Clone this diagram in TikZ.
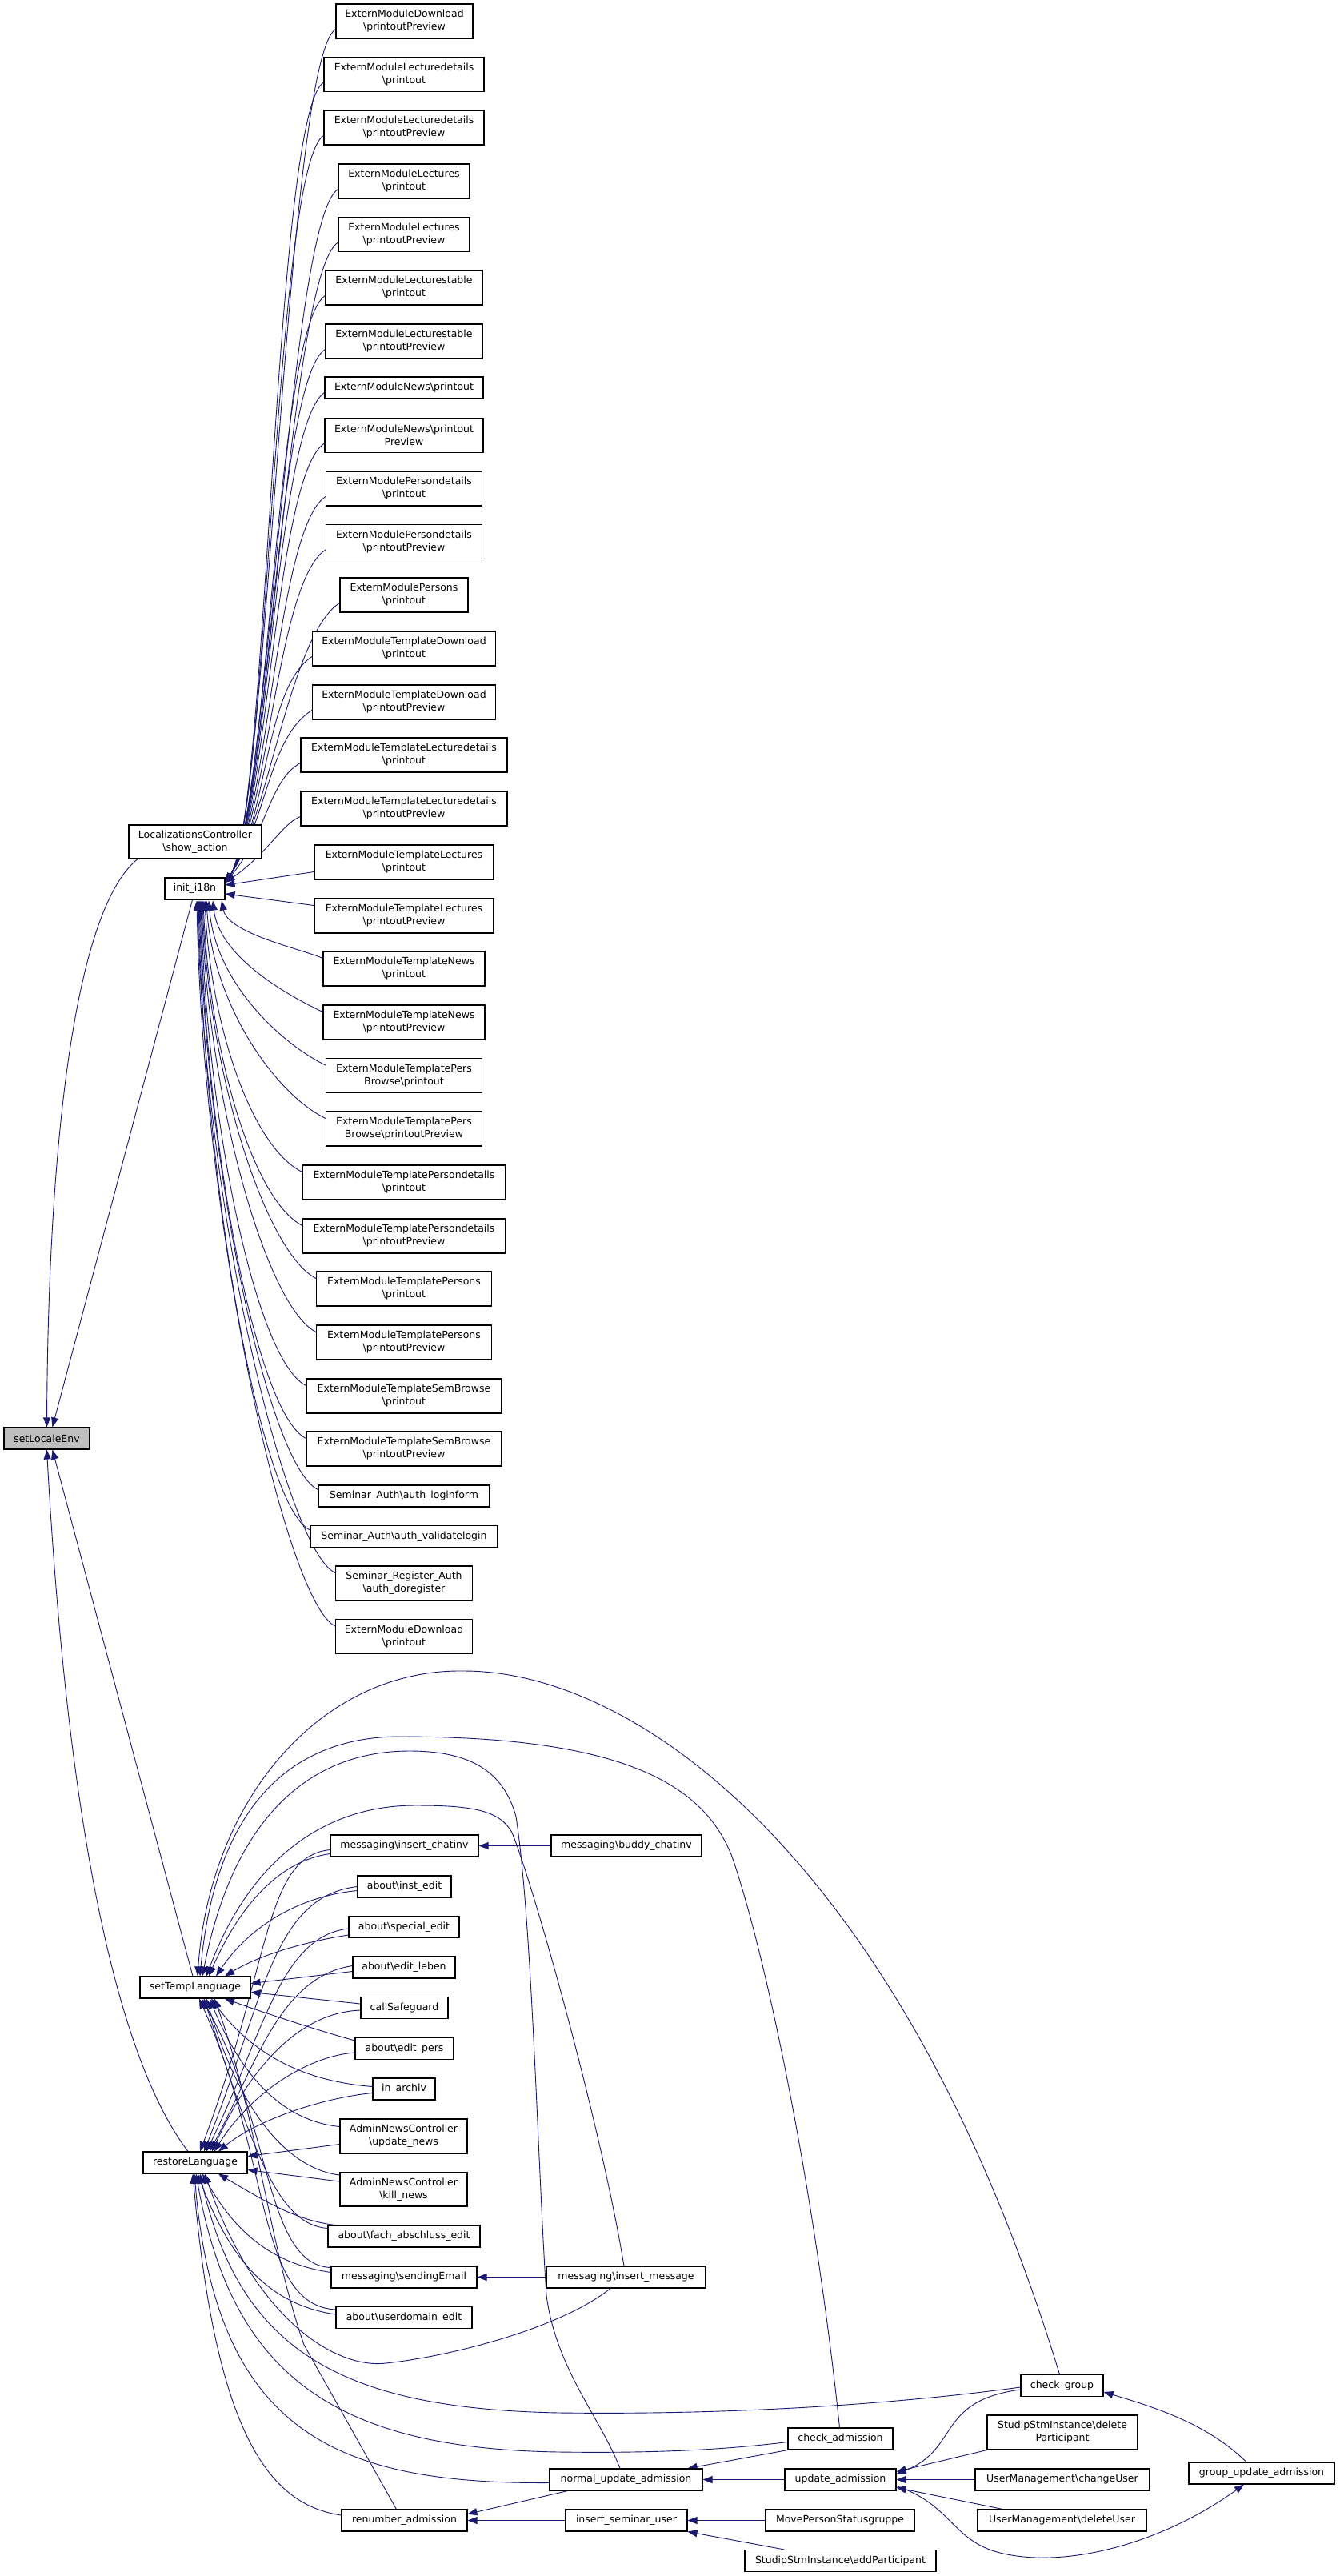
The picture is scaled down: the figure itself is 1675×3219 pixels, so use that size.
\documentclass[tikz,border=0pt]{standalone}
\usepackage{fontspec}
\setmainfont{DejaVu Sans}
\usetikzlibrary{arrows.meta,backgrounds}
\definecolor{edgeblue}{HTML}{191970}
\definecolor{selgray}{HTML}{BFBFBF}
\newcommand{\BSL}{\textbackslash}
\begin{document}
\begin{tikzpicture}[x=1pt,y=-1pt,
  box/.style={draw=black, line width=1.1pt, fill=white, inner sep=0pt, align=center,
    font=\fontsize{12.5}{16}\selectfont, minimum height=27pt},
  box2/.style={box, minimum height=43pt},
  ed/.style={draw=edgeblue, line width=0.9pt, {Triangle[length=12pt,width=9pt]}-},
]
\useasboundingbox (0,0) rectangle (1675,3219);
% ---------------- nodes
\node[box2, minimum width=171pt] (n1) at (505.5,26.5) {ExternModuleDownload\\\BSL printoutPreview};
\node[box2, minimum width=200pt] (n2) at (505,93) {ExternModuleLecturedetails\\\BSL printout};
\node[box2, minimum width=200pt] (n3) at (505,159.5) {ExternModuleLecturedetails\\\BSL printoutPreview};
\node[box2, minimum width=164pt] (n4) at (505,226.5) {ExternModuleLectures\\\BSL printout};
\node[box2, minimum width=164pt] (n5) at (505,293) {ExternModuleLectures\\\BSL printoutPreview};
\node[box2, minimum width=196pt] (n6) at (505,359.5) {ExternModuleLecturestable\\\BSL printout};
\node[box2, minimum width=196pt] (n7) at (505,426.5) {ExternModuleLecturestable\\\BSL printoutPreview};
\node[box, minimum width=198pt] (n8) at (505,484.5) {ExternModuleNews\BSL printout};
\node[box2, minimum width=198pt] (n9) at (505,544) {ExternModuleNews\BSL printout\\Preview};
\node[box2, minimum width=195pt] (n10) at (505,610.5) {ExternModulePersondetails\\\BSL printout};
\node[box2, minimum width=195pt] (n11) at (505,677) {ExternModulePersondetails\\\BSL printoutPreview};
\node[box2, minimum width=160pt] (n12) at (505,743.5) {ExternModulePersons\\\BSL printout};
\node[box2, minimum width=229pt] (n13) at (505,810.5) {ExternModuleTemplateDownload\\\BSL printout};
\node[box2, minimum width=229pt] (n14) at (505,877.5) {ExternModuleTemplateDownload\\\BSL printoutPreview};
\node[box2, minimum width=258pt] (n15) at (505,943.5) {ExternModuleTemplateLecturedetails\\\BSL printout};
\node[box2, minimum width=258pt] (n16) at (505,1010.5) {ExternModuleTemplateLecturedetails\\\BSL printoutPreview};
\node[box2, minimum width=224pt] (n17) at (505,1077.5) {ExternModuleTemplateLectures\\\BSL printout};
\node[box2, minimum width=224pt] (n18) at (505,1144.5) {ExternModuleTemplateLectures\\\BSL printoutPreview};
\node[box2, minimum width=202pt] (n19) at (505,1210.5) {ExternModuleTemplateNews\\\BSL printout};
\node[box2, minimum width=202pt] (n20) at (505,1277.5) {ExternModuleTemplateNews\\\BSL printoutPreview};
\node[box2, minimum width=195pt] (n21) at (505,1344) {ExternModuleTemplatePers\\Browse\BSL printout};
\node[box2, minimum width=195pt] (n22) at (505,1410.5) {ExternModuleTemplatePers\\Browse\BSL printoutPreview};
\node[box2, minimum width=253pt] (n23) at (505,1477.5) {ExternModuleTemplatePersondetails\\\BSL printout};
\node[box2, minimum width=253pt] (n24) at (505,1544.5) {ExternModuleTemplatePersondetails\\\BSL printoutPreview};
\node[box2, minimum width=219pt] (n25) at (505,1610.5) {ExternModuleTemplatePersons\\\BSL printout};
\node[box2, minimum width=219pt] (n26) at (505,1677.5) {ExternModuleTemplatePersons\\\BSL printoutPreview};
\node[box2, minimum width=244pt] (n27) at (505,1744.5) {ExternModuleTemplateSemBrowse\\\BSL printout};
\node[box2, minimum width=244pt] (n28) at (505,1810.5) {ExternModuleTemplateSemBrowse\\\BSL printoutPreview};
\node[box, minimum width=214pt] (n29) at (505,1869.5) {Seminar\_Auth\BSL auth\_loginform};
\node[box, minimum width=234pt] (n30) at (505,1920) {Seminar\_Auth\BSL auth\_validatelogin};
\node[box2, minimum width=171pt] (n31) at (505,1978.5) {Seminar\_Register\_Auth\\\BSL auth\_doregister};
\node[box2, minimum width=171pt] (n32) at (505,2045) {ExternModuleDownload\\\BSL printout};

\node[box2, minimum width=166pt, minimum height=42pt] (lc) at (244,1052) {LocalizationsController\\\BSL show\_action};
\node[box, minimum width=75pt] (i18n) at (243.5,1110.5) {init\_i18n};
\node[box, minimum width=107pt, fill=selgray] (sle) at (58.5,1797.5) {setLocaleEnv};

\node[box, minimum width=138pt] (stl) at (244,2483.5) {setTempLanguage};
\node[box, minimum width=130pt] (rl) at (244,2702.5) {restoreLanguage};
\node[box, minimum width=185pt] (ic) at (505.5,2306.5) {messaging\BSL insert\_chatinv};
\node[box, minimum width=188pt] (bc) at (783,2306.5) {messaging\BSL buddy\_chatinv};
\node[box, minimum width=117pt] (ie) at (505.5,2357.5) {about\BSL inst\_edit};
\node[box, minimum width=138pt] (se) at (505,2408) {about\BSL special\_edit};
\node[box, minimum width=128pt] (el) at (505,2458.5) {about\BSL edit\_leben};
\node[box, minimum width=109pt] (cs) at (505.5,2509) {callSafeguard};
\node[box, minimum width=123pt] (ep) at (505.5,2560) {about\BSL edit\_pers};
\node[box, minimum width=78pt] (ia) at (505,2610.5) {in\_archiv};
\node[box2, minimum width=159pt] (un) at (504.5,2669.5) {AdminNewsController\\\BSL update\_news};
\node[box2, minimum width=159pt, minimum height=42pt] (kn) at (504.5,2736) {AdminNewsController\\\BSL kill\_news};
\node[box, minimum width=190pt] (fa) at (505,2794.5) {about\BSL fach\_abschluss\_edit};
\node[box, minimum width=182pt] (sm) at (505,2845.5) {messaging\BSL sendingEmail};
\node[box, minimum width=199pt] (im) at (782.5,2845.5) {messaging\BSL insert\_message};
\node[box, minimum width=170pt] (ud) at (505,2896) {about\BSL userdomain\_edit};
\node[box, minimum width=103pt] (cg) at (1327.5,2981) {check\_group};
\node[box, minimum width=131pt] (ca) at (1050.5,3047.5) {check\_admission};
\node[box, minimum width=191pt] (nua) at (782.5,3098.5) {normal\_update\_admission};
\node[box, minimum width=139pt] (ua) at (1050.5,3098.5) {update\_admission};
\node[box2, minimum width=188pt] (dp) at (1328,3039.5) {StudipStmInstance\BSL delete\\Participant};
\node[box, minimum width=218pt] (cu) at (1328,3098.5) {UserManagement\BSL changeUser};
\node[box, minimum width=211pt] (du) at (1327.5,3149.5) {UserManagement\BSL deleteUser};
\node[box, minimum width=182pt] (gua) at (1577,3090.5) {group\_update\_admission};
\node[box, minimum width=157pt] (ra) at (505.5,3149.5) {renumber\_admission};
\node[box, minimum width=152pt] (isu) at (783,3149.5) {insert\_seminar\_user};
\node[box, minimum width=186pt] (mps) at (1050,3149.5) {MovePersonStatusgruppe};
\node[box, minimum width=239pt] (ap) at (1050.5,3200) {StudipStmInstance\BSL addParticipant};

\begin{scope}[on background layer]
\fill[white] (0,0) rectangle (1675,3219);
% ---------- setLocaleEnv callers
\draw[ed] (sle.north) .. controls (60,1450) and (90,1140) .. ([xshift=-72pt]lc.south);
\draw[ed] ([xshift=7pt]sle.north) -- ([xshift=-3pt]i18n.south);
\draw[ed] ([xshift=7pt]sle.south) -- ([xshift=-3pt]stl.north);
\draw[ed] (sle.south) .. controls (80,2200) and (130,2550) .. ([xshift=-9pt]rl.north);
% ---------- init_i18n callers (upper)
\draw[ed] ([yshift=7.5pt]i18n.east) .. controls (335,1023) and (357.5,76.5) .. ([yshift=-10pt]n1.west);
\draw[ed] ([yshift=7.5pt]i18n.east) .. controls (335,1023) and (342.5,143) .. ([yshift=-10pt]n2.west);
\draw[ed] ([yshift=7.5pt]i18n.east) .. controls (335,1023) and (342.5,209.5) .. ([yshift=-10pt]n3.west);
\draw[ed] ([yshift=7.5pt]i18n.east) .. controls (335,1023) and (360.5,276.5) .. ([yshift=-10pt]n4.west);
\draw[ed] ([yshift=7.5pt]i18n.east) .. controls (335,1023) and (360.5,343) .. ([yshift=-10pt]n5.west);
\draw[ed] ([yshift=7.5pt]i18n.east) .. controls (335,1023) and (344.5,409.5) .. ([yshift=-10pt]n6.west);
\draw[ed] ([yshift=7.5pt]i18n.east) .. controls (335,1023) and (344.5,476.5) .. ([yshift=-10pt]n7.west);
\draw[ed] ([yshift=7.5pt]i18n.east) .. controls (335,1023) and (343.5,534.5) .. ([yshift=-6pt]n8.west);
\draw[ed] ([yshift=7.5pt]i18n.east) .. controls (335,1023) and (343.5,594) .. ([yshift=-10pt]n9.west);
\draw[ed] ([yshift=7.5pt]i18n.east) .. controls (335,1023) and (345.5,660.5) .. ([yshift=-10pt]n10.west);
\draw[ed] ([yshift=7.5pt]i18n.east) .. controls (335,1023) and (345.5,727) .. ([yshift=-10pt]n11.west);
\draw[ed] ([yshift=7.5pt]i18n.east) .. controls (335,1023) and (362.5,793.5) .. ([yshift=-10pt]n12.west);
\draw[ed] ([yshift=7.5pt]i18n.east) .. controls (335,1023) and (330,860.5) .. ([yshift=-10pt]n13.west);
\draw[ed] ([yshift=7.5pt]i18n.east) .. controls (335,1023) and (335,922.5) .. ([yshift=-10pt]n14.west);
\draw[ed] ([yshift=7.5pt]i18n.east) .. controls (335,1039) and (336,975.5) .. ([yshift=-10pt]n15.west);
\draw[ed] ([yshift=7.5pt]i18n.east) .. controls (335,1066) and (353,1029) .. ([yshift=-10pt]n16.west);
\draw[ed] ([yshift=4.5pt]i18n.east) -- ([yshift=-12pt]n17.west);
% ---------- init_i18n callers (lower)
\draw[ed] ([yshift=-6.5pt]i18n.east) -- ([yshift=13pt]n18.west);
\draw[ed] ([xshift=33.5pt,yshift=-1pt]i18n.south) .. controls (285,1167) and (381,1187) .. ([yshift=13pt]n19.west);
\draw[ed] ([xshift=22.5pt,yshift=-1pt]i18n.south) .. controls (274,1197) and (364,1246) .. ([yshift=13pt]n20.west);
\draw[ed] ([xshift=17.5pt,yshift=-1pt]i18n.south) .. controls (269,1227) and (351,1304) .. ([yshift=13pt]n21.west);
\draw[ed] ([xshift=14.5pt,yshift=-1pt]i18n.south) .. controls (266,1257) and (345.5,1368) .. ([yshift=13pt]n22.west);
\draw[ed] ([xshift=12.5pt,yshift=-1pt]i18n.south) .. controls (264,1287) and (316.5,1435) .. ([yshift=13pt]n23.west);
\draw[ed] ([xshift=10.5pt,yshift=-1pt]i18n.south) .. controls (262,1317) and (316.5,1500) .. ([yshift=13pt]n24.west);
\draw[ed] ([xshift=9.5pt,yshift=-1pt]i18n.south) .. controls (261,1347) and (333.5,1566) .. ([yshift=13pt]n25.west);
\draw[ed] ([xshift=8.5pt,yshift=-1pt]i18n.south) .. controls (260,1377) and (333.5,1633) .. ([yshift=13pt]n26.west);
\draw[ed] ([xshift=7.5pt,yshift=-1pt]i18n.south) .. controls (259,1407) and (320.5,1700) .. ([yshift=13pt]n27.west);
\draw[ed] ([xshift=6.5pt,yshift=-1pt]i18n.south) .. controls (258,1437) and (320.5,1766) .. ([yshift=13pt]n28.west);
\draw[ed] ([xshift=5.5pt,yshift=-1pt]i18n.south) .. controls (257,1464) and (335.5,1831) .. ([yshift=8pt]n29.west);
\draw[ed] ([xshift=4.5pt,yshift=-1pt]i18n.south) .. controls (256,1486) and (325.5,1882) .. ([yshift=8pt]n30.west);
\draw[ed] ([xshift=3.5pt,yshift=-1pt]i18n.south) .. controls (255,1513) and (357.5,1936) .. ([yshift=13pt]n31.west);
\draw[ed] ([xshift=2.5pt,yshift=-1pt]i18n.south) .. controls (254,1543) and (357.5,2002) .. ([yshift=13pt]n32.west);
% ---------- setTempLanguage callers
\draw[ed] ([xshift=3pt]stl.north) .. controls (262,2250) and (400,2085) .. (580,2088) .. controls (800,2088) and (1130,2330) .. ([xshift=-3pt]cg.north);
\draw[ed] ([xshift=6pt]stl.north) .. controls (270,2250) and (370,2170) .. (500,2170) .. controls (780,2170) and (880,2230) .. (915,2320) .. controls (960,2450) and (1020,2750) .. ([xshift=-1pt]ca.north);
\draw[ed] ([xshift=9pt]stl.north) .. controls (290,2280) and (380,2188) .. (512,2188) .. controls (590,2188) and (630,2215) .. (645,2270) .. controls (665,2400) and (672,2700) .. (683,2868) .. controls (695,2960) and (750,3020) .. ([xshift=-7.5pt]nua.north);
\draw[ed] ([xshift=14pt]stl.north) .. controls (310,2330) and (400,2256) .. (519,2256) .. controls (590,2256) and (625,2262) .. (640,2290) .. controls (665,2350) and (750,2650) .. ([xshift=-2.5pt]im.north);
\draw[ed] ([xshift=17pt]stl.north) .. controls (300,2380) and (350,2325) .. ([yshift=-10pt]ic.west);
\draw[ed] ([xshift=26pt]stl.north) .. controls (310,2410) and (370,2370) .. ([yshift=-5pt]ie.west);
\draw[ed] ([xshift=37pt]stl.north) .. controls (330,2440) and (390,2425) .. ([yshift=-10pt]se.west);
\draw[ed] ([yshift=5pt]stl.east) -- ([yshift=-5pt]el.west);
\draw[ed] ([yshift=-6pt]stl.east) -- ([yshift=5pt]cs.west);
\draw[ed] ([xshift=37pt]stl.south) .. controls (330,2515) and (390,2535) .. ([yshift=10pt]ep.west);
\draw[ed] ([xshift=20pt]stl.south) .. controls (310,2560) and (370,2600) .. ([yshift=3pt]ia.west);
\draw[ed] ([xshift=18pt]stl.south) .. controls (300,2590) and (350,2650) .. ([yshift=12pt]un.west);
\draw[ed] ([xshift=14pt]stl.south) .. controls (300,2640) and (360,2710) .. ([yshift=18pt]kn.west);
\draw[ed] ([xshift=11pt]stl.south) .. controls (320,2700) and (350,2780) .. ([yshift=10pt]fa.west);
\draw[ed] ([xshift=8pt]stl.south) .. controls (340,2650) and (330,2830) .. ([yshift=12pt]sm.west);
\draw[ed] ([xshift=5pt]stl.south) .. controls (340,2700) and (320,2880) .. ([yshift=10pt]ud.west);
\draw[ed] ([xshift=24pt]stl.south) .. controls (320,2640) and (335,2800) .. (380,2930) -- ([xshift=-10pt]ra.north);
% ---------- restoreLanguage callers
\draw[ed] ([xshift=6pt]rl.north) .. controls (340,2450) and (330,2320) .. ([yshift=-5pt]ic.west);
\draw[ed] ([xshift=11pt]rl.north) .. controls (330,2500) and (340,2370) .. (ie.west);
\draw[ed] ([xshift=14pt]rl.north) .. controls (330,2540) and (350,2420) .. ([yshift=-2pt]se.west);
\draw[ed] ([xshift=18pt]rl.north) .. controls (320,2580) and (350,2470) .. ([yshift=2pt]el.west);
\draw[ed] ([xshift=21pt]rl.north) .. controls (310,2590) and (370,2515) .. ([yshift=-3pt]cs.west);
\draw[ed] ([xshift=24pt]rl.north) .. controls (310,2620) and (380,2570) .. ([yshift=-5pt]ep.west);
\draw[ed] ([xshift=29pt]rl.north) .. controls (320,2650) and (400,2622) .. ([yshift=-5pt]ia.west);
\draw[ed] ([yshift=8pt]rl.east) -- ([yshift=-10pt]un.west);
\draw[ed] ([yshift=-9pt]rl.east) -- ([yshift=10pt]kn.west);
\draw[ed] ([xshift=29pt]rl.south) .. controls (330,2750) and (370,2775) .. ([xshift=10pt]fa.north west);
\draw[ed] ([xshift=9pt]rl.south) .. controls (300,2800) and (350,2830) .. ([yshift=6pt]sm.west);
\draw[ed] ([xshift=3pt]rl.south) .. controls (290,2830) and (340,2880) .. ([yshift=4pt]ud.west);
\draw[ed] ([xshift=12pt]rl.south) .. controls (320,2900) and (420,2960) .. (482,2953) .. controls (560,2945) and (700,2910) .. ([xshift=-19.5pt]im.south);
\draw[ed] ([xshift=6pt]rl.south) .. controls (300,2940) and (430,3010) .. (700,3015) .. controls (950,3018) and (1150,3000) .. ([yshift=-2pt]cg.west);
\draw[ed] ([xshift=1pt]rl.south) .. controls (290,2970) and (420,3060) .. (700,3064) .. controls (850,3066) and (930,3058) .. ([yshift=-4pt]ca.west);
\draw[ed] ([xshift=-1pt]rl.south) .. controls (270,3040) and (420,3104) .. ([yshift=-4pt]nua.west);
\draw[ed] ([xshift=-3pt]rl.south) .. controls (270,3050) and (340,3130) .. ([yshift=6.5pt]ra.west);
% ---------- other calls
\draw[ed] (ic.east) -- (bc.west);
\draw[ed] (sm.east) -- (im.west);
\draw[ed] ([yshift=8pt]ra.east) -- ([xshift=-73pt]nua.south);
\draw[ed] (ra.east) -- (isu.west);
\draw[ed] ([xshift=-19pt]nua.north east) -- (ca.south west);
\draw[ed] (nua.east) -- (ua.west);
\draw[ed] (isu.east) -- (mps.west);
\draw[ed] (isu.south east) -- ([xshift=-70pt]ap.north);
\draw[ed] ([yshift=7pt]ua.east) .. controls (1200,3060) and (1170,3000) .. ([yshift=-5pt]cg.west);
\draw[ed] ([yshift=10pt]ua.east) -- (dp.south west);
\draw[ed] (ua.east) -- (cu.west);
\draw[ed] ([yshift=-10pt]ua.east) -- ([xshift=-74pt]du.north);
\draw[ed] ([xshift=-22pt]gua.south) .. controls (1450,3180) and (1330,3210) .. (1250,3190) .. controls (1190,3175) and (1190,3130) .. ([yshift=-8pt]ua.east);
\draw[ed] ([yshift=-8pt]cg.east) .. controls (1450,3010) and (1510,3030) .. ([xshift=-19pt]gua.north);
\end{scope}
\end{tikzpicture}
\end{document}
